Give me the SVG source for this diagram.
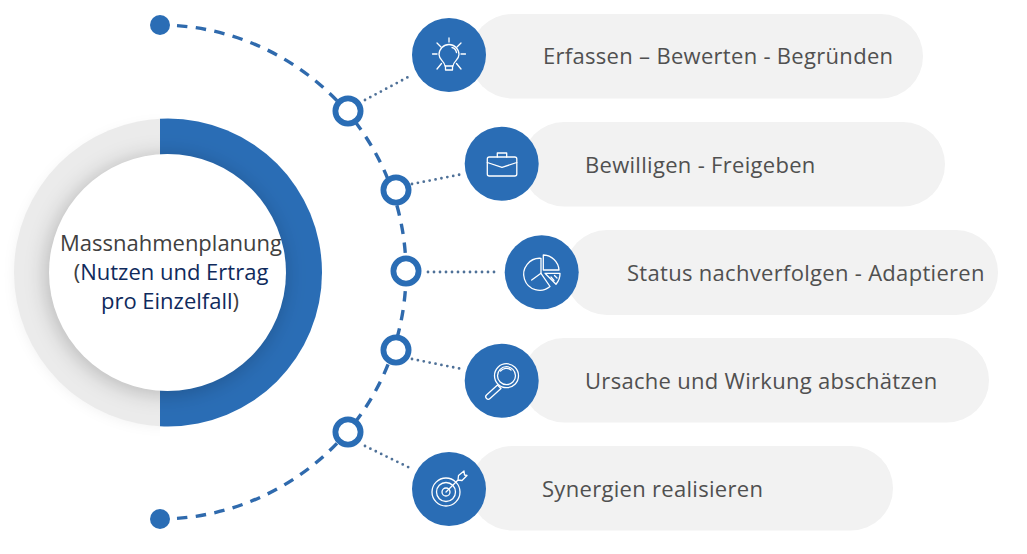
<svg xmlns="http://www.w3.org/2000/svg" width="1027" height="554" viewBox="0 0 1027 554">
<style>
.pill{fill:#f2f2f2}
.disc{fill:#2a6db5}
.ring{fill:#fff;stroke:#2a6db5;stroke-width:5.8}
.dash{fill:none;stroke:#2f6aad;stroke-width:3.4;stroke-dasharray:10.5 8.4;stroke-linecap:butt}
.dot{fill:none;stroke:#4f7198;stroke-width:2.8;stroke-linecap:round;stroke-dasharray:0 6}
.ic{fill:none;stroke:#fff;stroke-width:1.3;stroke-linecap:round;stroke-linejoin:round}
.lbl{font-family:"Open Sans","Noto Sans",sans-serif;font-size:22px;letter-spacing:.3px;fill:#505050}
.ctr{font-family:"Open Sans","Noto Sans",sans-serif;font-size:22px;fill:#0f2a5c;text-anchor:middle}
</style>
<defs>
<clipPath id="lh"><rect x="0" y="90" width="160" height="370"/></clipPath>
<clipPath id="rh"><rect x="160" y="90" width="200" height="370"/></clipPath>
<filter id="sh" x="-30%" y="-30%" width="160%" height="160%"><feGaussianBlur stdDeviation="10"/></filter>
<filter id="soft" x="-20%" y="-20%" width="140%" height="140%"><feGaussianBlur stdDeviation="6"/></filter>
</defs>
<g id="center-hub">
<circle cx="166" cy="275" r="152" fill="#000" fill-opacity=".05" filter="url(#soft)" clip-path="url(#lh)"/>
<circle cx="168" cy="272.500" r="154" fill="#ebebeb" clip-path="url(#lh)"/>
<circle cx="168" cy="272.500" r="154" fill="#2a6db5" clip-path="url(#rh)"/>
<circle cx="165" cy="275" r="120" fill="#000" fill-opacity=".2" filter="url(#sh)"/>
<circle cx="167.500" cy="272.500" r="118.500" fill="#fff"/>
<text class="ctr" x="171" y="251"><tspan fill="#404040">Massnahmenplanung</tspan></text>
<text class="ctr" x="171" y="280"><tspan fill="#404040">(</tspan>Nutzen und Ertrag</text>
<text class="ctr" x="170" y="309">pro Einzelfall<tspan fill="#404040">)</tspan></text>
</g>
<g id="connectors">
<path class="dash" d="M177 25.600A247 247 0 0 1 406 271"/>
<path class="dash" d="M177 518.400A247 247 0 0 0 406 271"/>
<path class="dot" d="M365 100L410 76"/>
<path class="dot" d="M412 184L463 174"/>
<path class="dot" d="M428 272L496 272"/>
<path class="dot" d="M412 359L462 369"/>
<path class="dot" d="M365 446L410 468"/>
</g>
<g id="start-dot"><circle class="disc" cx="160" cy="25" r="10"/></g>
<g id="end-dot"><circle class="disc" cx="160" cy="519" r="10"/></g>
<g id="ring-1"><circle class="ring" cx="348" cy="111" r="12.600"/></g>
<g id="ring-2"><circle class="ring" cx="396" cy="190" r="12.600"/></g>
<g id="ring-3"><circle class="ring" cx="406" cy="271" r="12.600"/></g>
<g id="ring-4"><circle class="ring" cx="396" cy="350" r="12.600"/></g>
<g id="ring-5"><circle class="ring" cx="348" cy="432" r="12.600"/></g>
<g id="node-1">
<rect class="pill" x="470" y="14" width="453" height="84.500" rx="42"/>
<circle class="disc" cx="449" cy="55" r="37"/>
<text class="lbl" x="543" y="64">Erfassen – Bewerten - Begründen</text>
<g class="ic">
<path d="M445 66C445 61.500 439 60 439 54.500A10 10 0 0 1 459 54.500C459 60 453 61.500 453 66Z"/>
<path d="M445.500 66V70H452.500V66M452 47.500C454.500 48 456 50 456.500 52.500"/>
<path d="M449 38V42M437 43L441 47M461 43L457 47M432.500 54H437M461 54H465.500M437 69L441.500 63.500M461 69L456.500 63.500"/>
</g>
</g>
<g id="node-2">
<rect class="pill" x="522" y="122" width="423" height="84.500" rx="42"/>
<circle class="disc" cx="501.700" cy="163.700" r="37"/>
<text class="lbl" x="585" y="173">Bewilligen - Freigeben</text>
<g class="ic">
<rect x="487.300" y="157" width="29.500" height="19" rx="2"/>
<path d="M487.300 162.500L502 167.300L516.800 162.500M497.300 157V153H506.700V157"/>
</g>
</g>
<g id="node-3">
<rect class="pill" x="565" y="230" width="433" height="85" rx="42"/>
<circle class="disc" cx="541.700" cy="272.300" r="37"/>
<text class="lbl" x="627" y="281">Status nachverfolgen - Adaptieren</text>
<g class="ic">
<path d="M541 258.300A16 16 0 1 0 550 286.500L541 273.300Z"/>
<path d="M541 273.300L531.700 280"/>
<path d="M543.300 255A16 16 0 0 1 559 270H543.300Z"/>
<path d="M545 273.300H560A16 16 0 0 1 556 284.300Z"/>
<path d="M551 277L554 280.500M554.500 275.500L557 278"/>
</g>
</g>
<g id="node-4">
<rect class="pill" x="522" y="338" width="467" height="84.500" rx="42"/>
<circle class="disc" cx="501.700" cy="380.700" r="37"/>
<text class="lbl" x="585" y="389">Ursache und Wirkung abschätzen</text>
<g class="ic">
<circle cx="506.500" cy="375.700" r="12"/>
<circle cx="506.500" cy="375.700" r="9"/>
<path d="M500.500 371A7.500 7.500 0 0 1 511 370"/>
<path d="M497.500 385L501 388.500L490 398.500A2.100 2.100 0 0 1 486.500 395Z"/>
</g>
</g>
<g id="node-5">
<rect class="pill" x="470" y="446" width="423" height="84.500" rx="42"/>
<circle class="disc" cx="449" cy="489" r="37"/>
<text class="lbl" x="542" y="497">Synergien realisieren</text>
<g class="ic">
<circle cx="446" cy="492" r="14"/>
<circle cx="446" cy="492" r="9.500"/>
<circle cx="446" cy="492" r="4"/>
<path d="M446 492L458 480M458 480L458.500 475.500L464 471L464.500 475L467 475.500L462 480.500Z"/>
</g>
</g>
</svg>
